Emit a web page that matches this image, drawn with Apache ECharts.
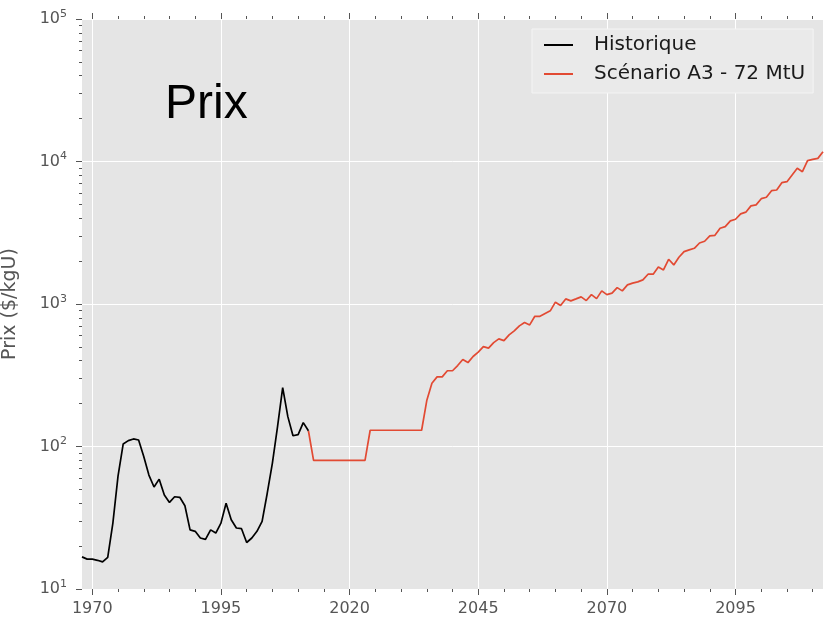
<!DOCTYPE html>
<html><head><meta charset="utf-8">
<script src="https://cdn.jsdelivr.net/npm/echarts@6/dist/echarts.min.js"></script>
<style>html,body{margin:0;padding:0;background:#fff}#c{width:825px;height:620px}</style>
</head><body><div id="c"></div>
<script>
// ---- data ----
const histYears = [1968,1969,1970,1971,1972,1973,1974,1975,1976,1977,1978,1979,1980,1981,1982,1983,1984,1985,1986,1987,1988,1989,1990,1991,1992,1993,1994,1995,1996,1997,1998,1999,2000,2001,2002,2003,2004,2005,2006,2007,2008,2009,2010,2011,2012];
const histValues = [16.8,16.2,16.2,15.9,15.5,16.7,29,62,104,110,113,111,85,63,52,59,45.6,40.5,44.4,44,38.4,26,25.4,22.8,22.3,26,24.7,29,40,30.6,26.8,26.5,21.2,22.8,25.4,29.8,47,76.5,138,259,162,119,121,147,129];

const scenYears = [2012,2013,2014,2015,2016,2017,2018,2019,2020,2021,2022,2023,2024,2025,2026,2027,2028,2029,2030,2031,2032,2033,2034,2035,2036,2037,2038,2039,2040,2041,2042,2043,2044,2045,2046,2047,2048,2049,2050,2051,2052,2053,2054,2055,2056,2057,2058,2059,2060,2061,2062,2063,2064,2065,2066,2067,2068,2069,2070,2071,2072,2073,2074,2075,2076,2077,2078,2079,2080,2081,2082,2083,2084,2085,2086,2087,2088,2089,2090,2091,2092,2093,2094,2095,2096,2097,2098,2099,2100,2101,2102,2103,2104,2105,2106,2107,2108,2109,2110,2111,2112];
const scenValues = [129,80,80,80,80,80,80,80,80,80,80,80,130,130,130,130,130,130,130,130,130,130,130,210,278,308,308,340,340,370,408,388,428,459,502,490,536,569,553,607,647,702,741,713,820,820,857,895,1030,975,1086,1052,1086,1122,1057,1164,1091,1236,1164,1191,1303,1236,1362,1400,1430,1476,1618,1618,1815,1733,2060,1880,2130,2333,2396,2460,2680,2755,3004,3035,3402,3494,3830,3935,4290,4410,4880,4960,5485,5610,6240,6310,7100,7215,8040,8960,8480,10140,10350,10520,11720];

const seriesNames = ['Historique', 'Scénario A3 - 72 MtU'];
const xTickLabels = [1970,1995,2020,2045,2070,2095];
const xMinorTicks = [1975,1980,1985,1990,2000,2005,2010,2015,2025,2030,2035,2040,2050,2055,2060,2065,2075,2080,2085,2090,2100,2105,2110];
const yMinorTicks = [20,30,40,50,60,70,80,90,200,300,400,500,600,700,800,900,2000,3000,4000,5000,6000,7000,8000,9000,20000,30000,40000,50000,60000,70000,80000,90000];
const titleText = 'Prix';
const yAxisName = 'Prix ($/kgU)';

// ---- chart ----
const tickColor = '#555555';
const font = 'DejaVu Sans';
const chart = echarts.init(document.getElementById('c'), null, {renderer: 'canvas'});

const helperX = (pos, vals, len) => ({
  type: 'value', min: 1968, max: 2112, position: pos,
  axisLine: {show: false},
  axisTick: {show: true, customValues: vals, length: len, lineStyle: {color: tickColor, width: 1}},
  axisLabel: {show: false},
  splitLine: {show: false}
});

chart.setOption({
  animation: false,
  backgroundColor: '#ffffff',
  title: {
    text: titleText, left: 165, top: 81, padding: 0,
    textStyle: {fontFamily: 'Liberation Sans', fontSize: 48, fontWeight: 'normal', color: '#000'}
  },
  legend: {
    orient: 'vertical', left: 532, top: 29,
    padding: [6, 8, 9, 12], itemGap: 9, itemWidth: 29, itemHeight: 2, icon: 'rect',
    backgroundColor: '#EAEAEA', borderColor: '#F4F4F4', borderWidth: 1,
    textStyle: {fontSize: 20, fontFamily: font, color: '#1a1a1a', padding: [0, 0, 0, 16]},
    data: seriesNames
  },
  grid: {left: 82, right: 2, top: 19, bottom: 31, show: true, backgroundColor: '#E5E5E5', borderWidth: 0,
         containLabel: false, outerBoundsMode: 'none'},
  xAxis: [
    {
      type: 'value', min: 1968, max: 2112, position: 'bottom',
      axisLine: {show: false},
      axisTick: {show: true, customValues: xTickLabels, length: 6, lineStyle: {color: tickColor, width: 1}},
      axisLabel: {customValues: xTickLabels, color: tickColor, fontSize: 16, fontFamily: font, margin: 12, formatter: v => String(v)},
      splitLine: {show: true, lineStyle: {color: '#ffffff', width: 1}}
    },
    helperX('bottom', xMinorTicks, 3),
    helperX('top', xTickLabels, 6),
    helperX('top', xMinorTicks, 3)
  ],
  yAxis: [
    {
      type: 'log', logBase: 10, min: 10, max: 100000, position: 'left',
      name: yAxisName, nameLocation: 'middle', nameGap: 62,
      nameTextStyle: {fontSize: 19, fontFamily: font, color: tickColor},
      axisLine: {show: false},
      axisTick: {show: true, length: 6, lineStyle: {color: tickColor, width: 1}},
      axisLabel: {
        margin: 15, fontFamily: font,
        formatter: v => '{b|10}{e|' + Math.round(Math.log10(v)) + '}',
        rich: {
          b: {fontSize: 16, fontFamily: font, color: tickColor},
          e: {fontSize: 11, fontFamily: font, color: tickColor, padding: [0, 0, 10, 0]}
        }
      },
      splitLine: {show: true, lineStyle: {color: '#ffffff', width: 1}}
    },
    {
      type: 'value', min: 1, max: 5, position: 'left',
      axisLine: {show: false},
      axisTick: {show: true, customValues: yMinorTicks.map(v => Math.log10(v)), length: 3, lineStyle: {color: tickColor, width: 1}},
      axisLabel: {show: false},
      splitLine: {show: false}
    }
  ],
  series: [
    {
      name: seriesNames[0], type: 'line', xAxisIndex: 0, yAxisIndex: 0,
      showSymbol: false, symbol: 'none', color: '#000000',
      lineStyle: {color: '#000000', width: 1.7},
      data: histYears.map((y, i) => [y, histValues[i]]),
      z: 3
    },
    {
      name: seriesNames[1], type: 'line', xAxisIndex: 0, yAxisIndex: 0,
      showSymbol: false, symbol: 'none', color: '#E24A33',
      lineStyle: {color: '#E24A33', width: 1.7},
      data: scenYears.map((y, i) => [y, scenValues[i]]),
      z: 2
    }
  ]
});
</script>
</body></html>
